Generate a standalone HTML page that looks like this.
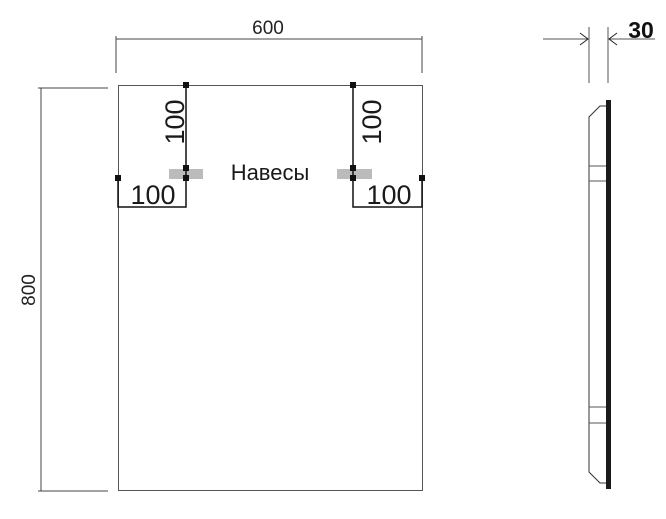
<!DOCTYPE html>
<html><head><meta charset="utf-8"><style>body{margin:0;background:#fff}svg{display:block}</style></head>
<body>
<svg width="666" height="519" viewBox="0 0 666 519" xmlns="http://www.w3.org/2000/svg" font-family="Liberation Sans, DejaVu Sans, sans-serif">
<g fill="none" stroke="#444" stroke-width="1">
<line x1="116" y1="39" x2="422" y2="39"/>
<line x1="116" y1="36" x2="116" y2="73"/>
<line x1="422" y1="36" x2="422" y2="73"/>
<line x1="41" y1="88" x2="41" y2="491"/>
<line x1="38" y1="88" x2="108" y2="88"/>
<line x1="38" y1="491" x2="108" y2="491"/>
<rect x="118.5" y="85.5" width="304" height="405" stroke="#555"/>
</g>
<text x="268" y="34" font-size="19" text-anchor="middle" fill="#222">600</text>
<text transform="translate(35,290) rotate(-90)" font-size="19" text-anchor="middle" fill="#222">800</text>
<rect x="169" y="169" width="34" height="10" fill="#bbb"/>
<rect x="337" y="169" width="35" height="10" fill="#bbb"/>
<g stroke="#111" stroke-width="1.5" fill="none">
<line x1="186" y1="85" x2="186" y2="178"/>
<line x1="353" y1="85" x2="353" y2="178"/>
<polyline points="118,178 118,207 186,207 186,178"/>
<polyline points="353,178 353,207 422,207 422,178"/>
</g>
<g fill="#111">
<rect x="183" y="82" width="6" height="6"/><rect x="183" y="165" width="6" height="6"/><rect x="183" y="175" width="6" height="6"/>
<rect x="350" y="82" width="6" height="6"/><rect x="350" y="165" width="6" height="6"/><rect x="350" y="175" width="6" height="6"/>
<rect x="115" y="175" width="6" height="6"/><rect x="419" y="175" width="6" height="6"/>
</g>
<g fill="#1a1a1a" font-size="27">
<text x="153" y="204" text-anchor="middle">100</text>
<text x="389" y="204" text-anchor="middle">100</text>
<text transform="translate(184,122) rotate(-90)" text-anchor="middle">100</text>
<text transform="translate(381,122) rotate(-90)" text-anchor="middle">100</text>
</g>
<text x="270" y="180" font-size="22" text-anchor="middle" fill="#1a1a1a">Навесы</text>
<g stroke="#555" stroke-width="1" fill="none">
<line x1="589" y1="27" x2="589" y2="83"/>
<line x1="608" y1="27" x2="608" y2="83"/>
<line x1="543" y1="39" x2="588" y2="39"/>
<line x1="609" y1="39" x2="655" y2="39"/>
<polyline points="580,33 588,39 580,45" stroke="#222"/>
<polyline points="617,33 609,39 617,45" stroke="#222"/>
<polyline points="608,106 600,106 589,117 589,472 600,483 608,483" stroke="#333"/>
<line x1="589" y1="166" x2="608" y2="166"/>
<line x1="589" y1="181" x2="608" y2="181"/>
<line x1="589" y1="407" x2="608" y2="407"/>
<line x1="589" y1="423" x2="608" y2="423"/>
</g>
<rect x="606" y="100" width="5" height="389" fill="#1a1a1a"/>
<text x="641" y="38" font-size="23" font-weight="bold" text-anchor="middle" fill="#111">30</text>
</svg>
</body></html>
